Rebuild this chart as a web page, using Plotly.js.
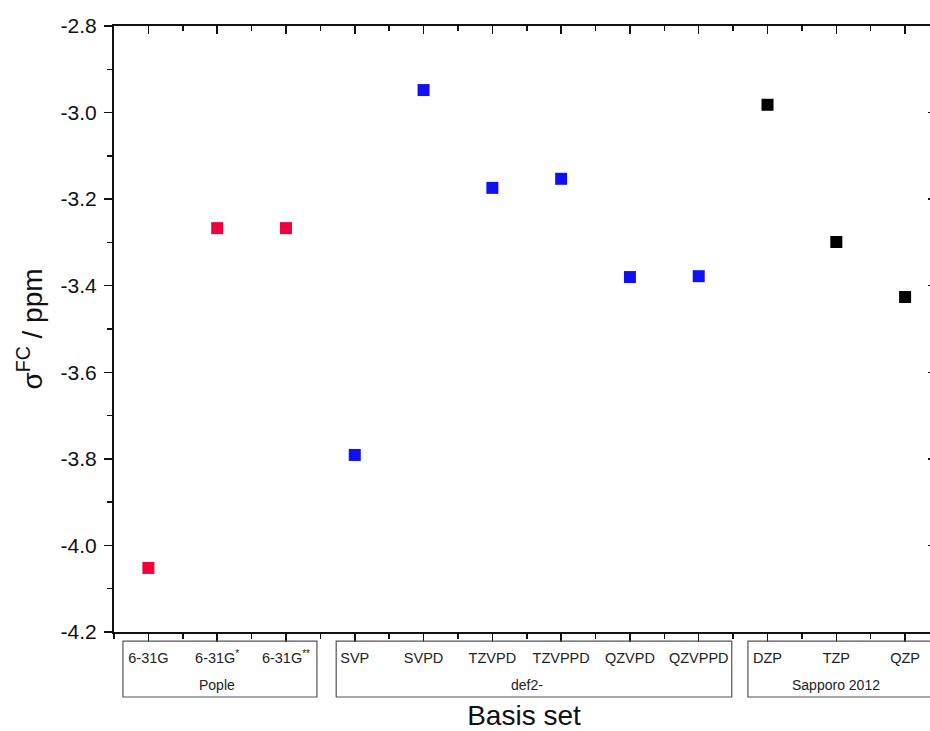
<!DOCTYPE html>
<html>
<head>
<meta charset="utf-8">
<script src="https://cdn.plot.ly/plotly-3.0.1.min.js"></script>
<style>html,body{margin:0;padding:0;overflow:hidden;background:#fff;}</style>
</head>
<body>
<div id="chart" style="width:934px;height:731px;"></div>
<script>
// Data
const categories = ["6-31G", "6-31G*", "6-31G**", "SVP", "SVPD", "TZVPD", "TZVPPD", "QZVPD", "QZVPPD", "DZP", "TZP", "QZP"];
const tickLabels = ["6-31G", "6-31G<sup>*</sup>", "6-31G<sup>**</sup>", "SVP", "SVPD", "TZVPD", "TZVPPD", "QZVPD", "QZVPPD", "DZP", "TZP", "QZP"];
const values = [-4.052, -3.267, -3.267, -3.791, -2.948, -3.174, -3.153, -3.380, -3.378, -2.982, -3.299, -3.426];
const groupOf = ["Pople", "Pople", "Pople", "def2-", "def2-", "def2-", "def2-", "def2-", "def2-", "Sapporo 2012", "Sapporo 2012", "Sapporo 2012"];
const groups = ["Pople", "def2-", "Sapporo 2012"];
const groupColors = ["#f0003c", "#1010f5", "#000000"];
const yTickVals = [-4.2, -4.0, -3.8, -3.6, -3.4, -3.2, -3.0, -2.8];
const yTickLabels = ["-4.2", "-4.0", "-3.8", "-3.6", "-3.4", "-3.2", "-3.0", "-2.8"];

const positions = categories.map((c, i) => i + 1);
const minorPositions = [0.5].concat(positions.map(p => p + 0.5));

const font = "Liberation Sans, Arial, sans-serif";

const traces = groups.map((g, gi) => {
  const xs = [], ys = [];
  categories.forEach((c, i) => { if (groupOf[i] === g) { xs.push(positions[i]); ys.push(values[i]); } });
  return {
    type: "scatter", mode: "markers", name: g, x: xs, y: ys,
    marker: {symbol: "square", size: 12, color: groupColors[gi]},
    hoverinfo: "x+y"
  };
});
// empty trace to activate mirrored (top/right) axes
traces.push({type: "scatter", x: [], y: [], xaxis: "x2", yaxis: "y2", showlegend: false, hoverinfo: "skip"});

// group boxes + labels, computed from the category positions
const shapes = [], annotations = [];
const padLeft = [0.37, 0.27, 0.285];
const padRight = [0.45, 0.48, 0.7];
groups.forEach((g, gi) => {
  const idx = positions.filter((p, i) => groupOf[i] === g);
  const lo = Math.min(...idx), hi = Math.max(...idx);
  shapes.push({type: "rect", xref: "x", yref: "paper", x0: lo - padLeft[gi], x1: hi + padRight[gi], y0: -0.1073, y1: -0.0149,
    line: {color: "#555", width: 1.2}, fillcolor: "rgba(0,0,0,0)"});
  annotations.push({xref: "x", yref: "paper", x: (lo + hi) / 2, y: -0.0875, text: g, showarrow: false,
    font: {family: font, size: 14, color: "#222"}, xanchor: "center", yanchor: "middle"});
});

const xr = [0.5, 12.42];
const yr = [-4.2, -2.8];
const layout = {
  width: 934, height: 731,
  margin: {l: 114, r: 0, t: 26, b: 99},
  paper_bgcolor: "#fff", plot_bgcolor: "#fff",
  showlegend: false,
  font: {family: font, color: "#111"},
  xaxis: {
    range: xr, tickmode: "array", tickvals: positions, ticktext: tickLabels,
    ticks: "outside", ticklen: 8, tickwidth: 1.5, tickcolor: "#111",
    minor: {tickvals: minorPositions, ticks: "outside", ticklen: 5, tickwidth: 1.5, tickcolor: "#111"},
    showline: true, linecolor: "#111", linewidth: 2, showgrid: false, zeroline: false,
    tickfont: {family: font, size: 14.5, color: "#222"}, ticklabelstandoff: 4,
    title: {text: "Basis set", font: {family: font, size: 28, color: "#111"}, standoff: 40}
  },
  xaxis2: {
    overlaying: "x", side: "top", anchor: "y", range: xr, tickmode: "array", tickvals: positions,
    ticks: "inside", ticklen: 8, tickwidth: 1.5, tickcolor: "#111", showticklabels: false,
    minor: {tickvals: minorPositions, ticks: "inside", ticklen: 5, tickwidth: 1.5, tickcolor: "#111"},
    showline: true, linecolor: "#111", linewidth: 2, showgrid: false, zeroline: false
  },
  yaxis: {
    range: yr, tickmode: "array", tickvals: yTickVals, ticktext: yTickLabels,
    ticks: "outside", ticklen: 8, tickwidth: 1.5, tickcolor: "#111",
    minor: {dtick: 0.1, ticks: "outside", ticklen: 5, tickwidth: 1.5, tickcolor: "#111"},
    showline: true, linecolor: "#111", linewidth: 2, showgrid: false, zeroline: false,
    tickfont: {family: font, size: 21, color: "#111"}, ticklabelstandoff: 3,
    title: {text: "σ<sup>FC</sup> / ppm", font: {family: font, size: 28, color: "#111"}, standoff: 10}
  },
  yaxis2: {
    overlaying: "y", side: "right", anchor: "x", range: yr, tickmode: "array", tickvals: yTickVals,
    ticks: "inside", ticklen: 6, tickwidth: 1.5, tickcolor: "#111", showticklabels: false,
    showline: false, showgrid: false, zeroline: false
  },
  shapes: shapes,
  annotations: annotations
};

Plotly.newPlot("chart", traces, layout, {displayModeBar: false, staticPlot: true});
</script>
</body>
</html>
